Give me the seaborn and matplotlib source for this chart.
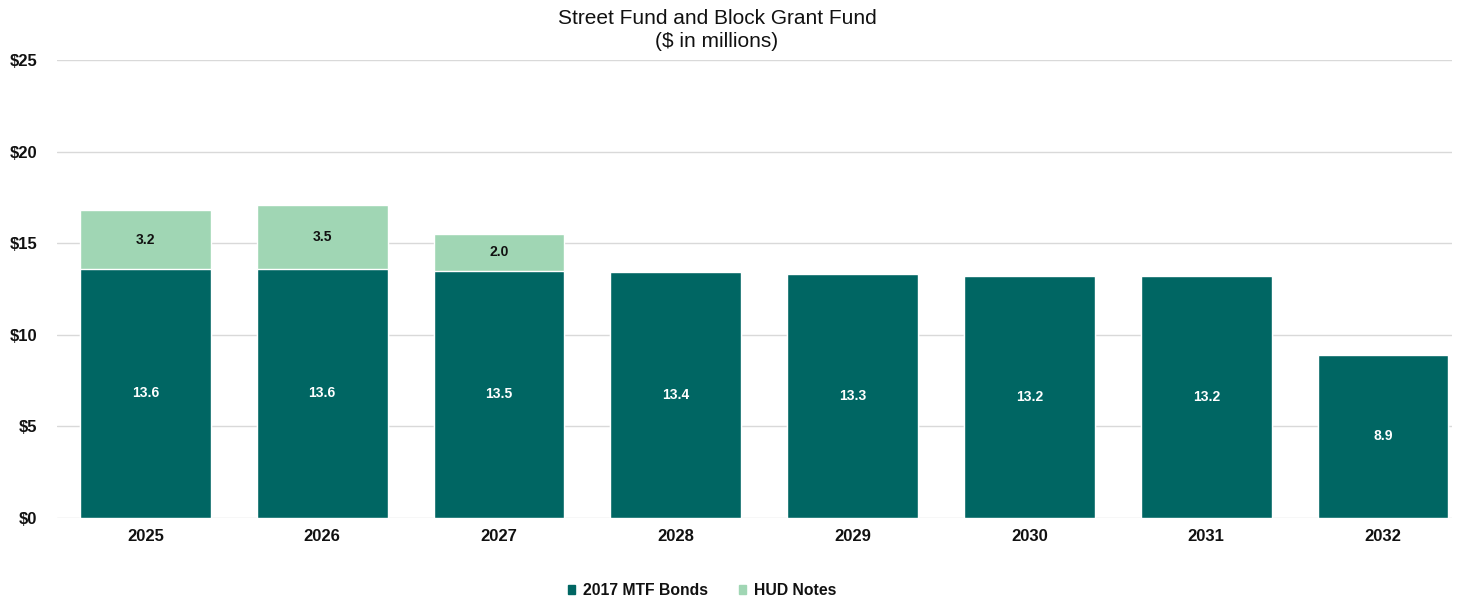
import numpy as np
import pandas as pd
import seaborn as sns
import matplotlib.pyplot as plt
from matplotlib.patches import Patch

years = ["2025", "2026", "2027", "2028", "2029", "2030", "2031", "2032"]
mtf_bonds = [13.6, 13.6, 13.5, 13.4, 13.3, 13.2, 13.2, 8.9]
hud_notes = [3.2, 3.5, 2.0, 0, 0, 0, 0, 0]

dark = "#006663"
light = "#A0D6B4"

df = pd.DataFrame({"Year": years, "MTF": mtf_bonds, "HUD": hud_notes})
df["Total"] = df["MTF"] + df["HUD"]

sns.set_style("white")
plt.rcParams["font.family"] = ["Liberation Sans", "DejaVu Sans"]

fig = plt.figure(figsize=(14.59, 6.04), dpi=100)
ax = fig.add_axes([57 / 1459, 0.1424, (1452 - 57) / 1459, 0.7583])

# stacked: totals in light, bonds drawn over them
sns.barplot(x="Year", y="Total", data=df, color=light, width=0.74,
            edgecolor="white", linewidth=1, ax=ax, saturation=1)
sns.barplot(x="Year", y="MTF", data=df, color=dark, width=0.74,
            edgecolor="white", linewidth=1, ax=ax, saturation=1)

for i, (b, h) in enumerate(zip(mtf_bonds, hud_notes)):
    ax.text(i, b / 2, f"{b:.1f}", ha="center", va="center", color="white",
            fontsize=10, fontweight="bold")
    if h > 0:
        ax.text(i, b + h / 2, f"{h:.1f}", ha="center", va="center", color="#111111",
                fontsize=10, fontweight="bold")

ax.set_ylim(0, 25)
ax.set_xlim(-0.5, 7.39)
ax.set_yticks([0, 5, 10, 15, 20, 25])
ax.set_yticklabels([f"${v}" for v in [0, 5, 10, 15, 20, 25]])
ax.yaxis.grid(True, color="#d9d9d9", linewidth=1)
ax.set_axisbelow(True)
for s in ax.spines.values():
    s.set_visible(False)
ax.tick_params(axis="both", length=0, labelsize=12, labelcolor="#111111")
ax.tick_params(axis="y", pad=14)
ax.tick_params(axis="x", pad=8)
for lab in ax.get_xticklabels() + ax.get_yticklabels():
    lab.set_fontweight("bold")
ax.set_xlabel("")
ax.set_ylabel("")

fig.text(717 / 1459, 0.985, "Street Fund and Block Grant Fund\n($ in millions)",
         ha="center", va="top", fontsize=15, linespacing=1.25, color="#111111")

handles = [Patch(color=dark, label="2017 MTF Bonds"), Patch(color=light, label="HUD Notes")]
fig.legend(handles=handles, loc="center", bbox_to_anchor=(702 / 1459, 0.022), ncol=2,
           frameon=False, handlelength=0.45, handleheight=0.45, handletextpad=0.5,
           columnspacing=2.0, labelcolor="#111111",
           prop={"size": 11.3, "weight": "bold"})

fig.savefig("out.png", dpi=100)
